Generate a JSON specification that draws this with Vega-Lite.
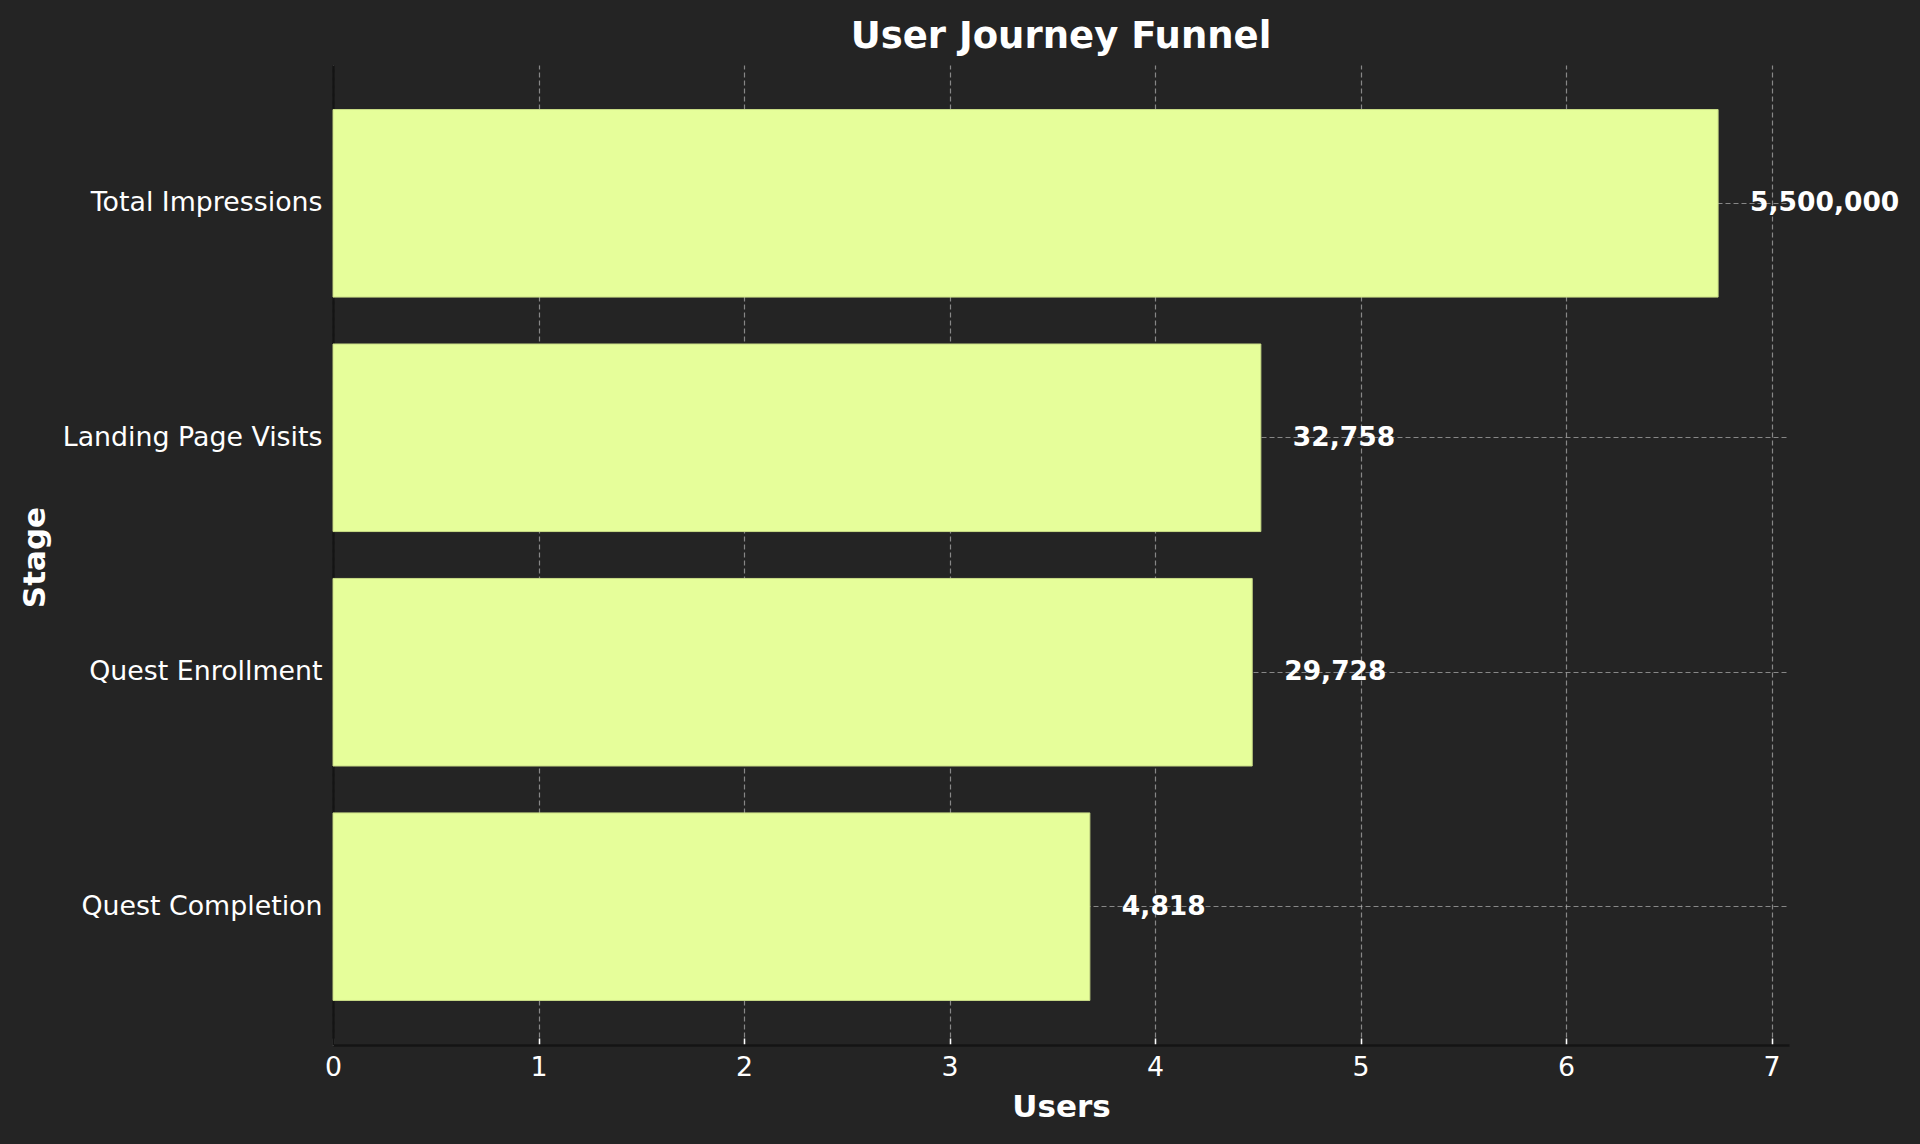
{
  "$schema": "https://vega.github.io/schema/vega-lite/v6.json",
  "width": 1456,
  "height": 980,
  "autosize": {"type": "none"},
  "padding": {"left": 333, "top": 65, "right": 131, "bottom": 99},
  "background": "#242424",
  "title": {
    "text": "User Journey Funnel",
    "font": "DejaVu Sans",
    "fontSize": 37,
    "fontWeight": "bold",
    "color": "#ffffff",
    "anchor": "middle",
    "offset": 9
  },
  "config": {
    "view": {"stroke": null},
    "axis": {
      "labelFont": "DejaVu Sans",
      "labelFontSize": 26.8,
      "labelColor": "#ffffff",
      "labelLimit": 0,
      "titleFont": "DejaVu Sans",
      "titleFontSize": 31,
      "titleFontWeight": "bold",
      "titleColor": "#ffffff",
      "domainColor": "#141414",
      "domainWidth": 2.5,
      "tickColor": "#ffffff",
      "tickSize": -7,
      "tickWidth": 1.5,
      "gridColor": "#b2b2b2",
      "gridOpacity": 0.7,
      "gridDash": [5, 3],
      "gridWidth": 1.2,
      "zindex": 1
    }
  },
  "data": {
    "values": [
      {"stage": "Total Impressions", "users": 5500000, "log_users": 6.74},
      {"stage": "Landing Page Visits", "users": 32758, "log_users": 4.515},
      {"stage": "Quest Enrollment", "users": 29728, "log_users": 4.473},
      {"stage": "Quest Completion", "users": 4818, "log_users": 3.683}
    ]
  },
  "encoding": {
    "y": {
      "field": "stage",
      "type": "nominal",
      "sort": null,
      "scale": {"paddingInner": 0.2, "paddingOuter": 0.19},
      "axis": {
        "title": "Stage",
        "grid": true,
        "bandPosition": 0.5,
        "labelPadding": 18,
        "titleX": -282,
        "titleY": 492
      }
    }
  },
  "layer": [
    {
      "mark": {"type": "bar", "color": "#e6fe9a", "stroke": "#c9dc86", "strokeWidth": 1},
      "encoding": {
        "x": {
          "field": "log_users",
          "type": "quantitative",
          "scale": {"domain": [0, 7.085], "nice": false, "zero": true},
          "axis": {
            "title": "Users",
            "values": [0, 1, 2, 3, 4, 5, 6, 7],
            "format": "d",
            "grid": true,
            "labelFlush": false,
            "labelPadding": 16,
            "titlePadding": 12
          }
        }
      }
    },
    {
      "mark": {
        "type": "text",
        "align": "left",
        "baseline": "middle",
        "dx": 32,
        "font": "DejaVu Sans",
        "fontSize": 26.5,
        "fontWeight": "bold",
        "color": "#ffffff"
      },
      "encoding": {
        "x": {"field": "log_users", "type": "quantitative"},
        "text": {"field": "users", "type": "quantitative", "format": ",d"}
      }
    }
  ]
}
